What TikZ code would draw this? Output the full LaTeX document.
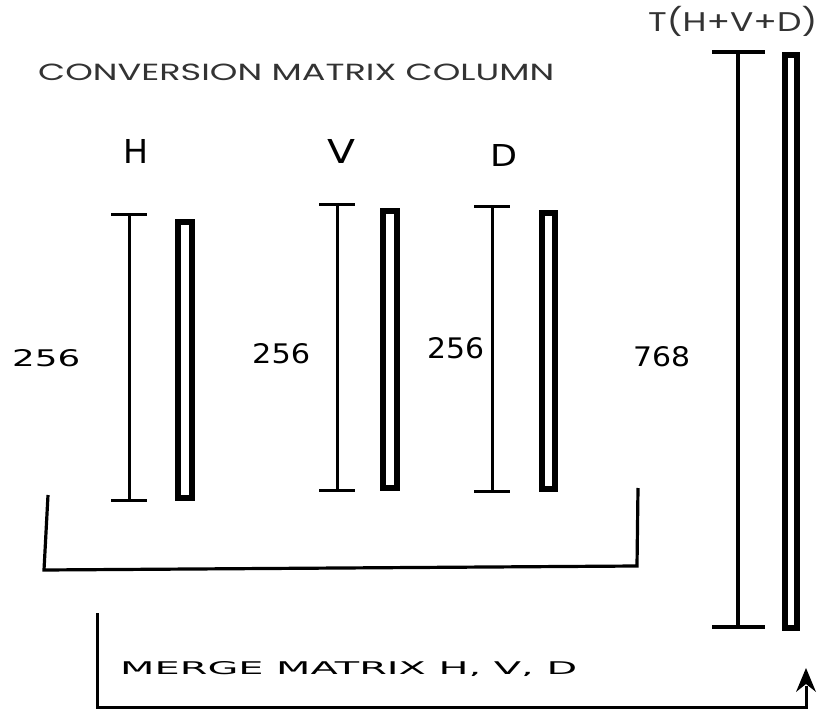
\documentclass[tikz,border=0pt]{standalone}
\usepackage{fontspec}
\usepackage{graphicx}
\usetikzlibrary{arrows.meta}
\newfontfamily\gothic{Poppins}
\newfontfamily\dvs{DejaVu Sans}
\newcommand{\fittext}[3]{\resizebox{#1pt}{#2pt}{#3}}
\begin{document}
\begin{tikzpicture}[x=1pt,y=-1pt,
  lbl/.style={inner sep=0pt, anchor=base west},
  scalebar/.style={line width=3pt},
  colbox/.style={draw, line width=6pt},
  bracket/.style={line width=3.2pt, line join=miter},
  merge/.style={line width=3pt}]
\useasboundingbox (0,0) rectangle (822,711);
% titles
\node[lbl, text=black!80] (title) at (38,81) {\fittext{516}{16.5}{\gothic CONVERSION MATRIX COLUMN}};
\node[lbl, text=black!80] (tlabel) at (648,32) {\resizebox{169pt}{\height}{\fontsize{27pt}{27pt}\gothic T(H+V+D)}};
\node[lbl] (hl) at (123,164) {\fittext{25}{24}{\dvs H}};
\node[lbl] (vl) at (327,164) {\fittext{28}{24}{\dvs V}};
\node[lbl] (dl) at (490,167) {\fittext{27}{22}{\dvs D}};
% number labels
\node[lbl] (n1) at (12,366) {\fittext{68}{17}{\dvs 256}};
\node[lbl] (n2) at (252,363) {\fittext{58}{20}{\dvs 256}};
\node[lbl] (n3) at (427,359) {\fittext{57}{21}{\dvs 256}};
\node[lbl] (n4) at (633,366) {\fittext{57}{20}{\dvs 768}};
% H
\draw[scalebar] (111,215) -- (147,215) (129,215) -- (129,500) (111,500) -- (147,500);
\draw[colbox] (178,222) rectangle (192,498);
% V
\draw[scalebar] (319,205) -- (355,205) (337,205) -- (337,490) (319,490) -- (355,490);
\draw[colbox] (383,211) rectangle (397,488);
% D
\draw[scalebar] (474,207) -- (510,207) (492,207) -- (492,491) (474,491) -- (510,491);
\draw[colbox] (542,213) rectangle (555,489);
% Total
\draw[line width=3.5pt] (712,52) -- (765,52) (738,52) -- (738,627) (712,627) -- (765,627);
\draw[colbox] (785,55) rectangle (797,628);
% bracket
\coordinate (b1) at (48,495);
\coordinate (b2) at (44,570);
\coordinate (b3) at (637,566);
\coordinate (b4) at (638,488);
\draw[bracket] (b1) -- (b2) -- (b3) -- (b4);
% merge arrow
\coordinate (m1) at (97,613);
\coordinate (m2) at (97,707);
\coordinate (m3) at (806,707);
\coordinate (m4) at (806,668);
\draw[merge] (m1) -- (m2) -- (m3) -- (806,686);
\fill (m4) -- (796,692) -- (806,684) -- (816,692) -- cycle;
\node[lbl] (mergetxt) at (120,674) {\fittext{457}{13}{\dvs MERGE MATRIX H, V, D}};
\end{tikzpicture}
\end{document}
